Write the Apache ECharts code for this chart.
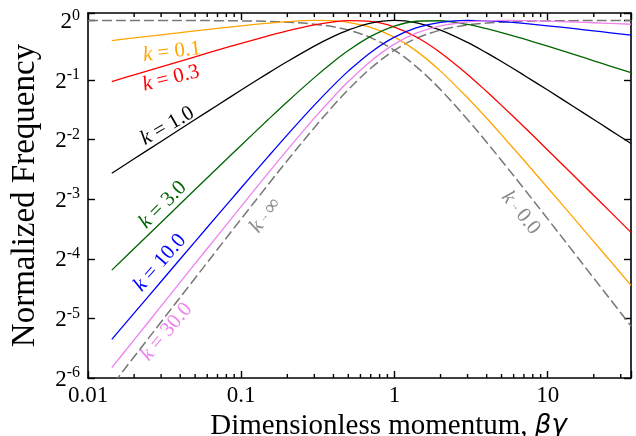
<!DOCTYPE html>
<html>
<head>
<meta charset="utf-8">
<script src="https://cdn.jsdelivr.net/npm/echarts@6/dist/echarts.min.js"></script>
<style>
  html, body { margin: 0; padding: 0; background: #ffffff; }
  #chart { width: 636px; height: 436px; }
</style>
</head>
<body>
<div id="chart"></div>
<script>
// Dimensionless momentum (beta*gamma) sample points for the finite-k curves
const momentum = [0.0143, 0.02, 0.03, 0.05, 0.07, 0.1, 0.15, 0.2, 0.3, 0.4, 0.5, 0.7,
                  1, 1.4, 2, 3, 4, 5, 7, 10, 15, 20, 25, 35];
// Sample points for the two limiting (dashed) curves
const momentumLimit = [0.01, 0.0143, 0.02, 0.03, 0.05, 0.07, 0.1, 0.15, 0.2, 0.3, 0.4, 0.5, 0.7,
                       1, 1.4, 2, 3, 4, 5, 7, 10, 15, 20, 25, 35];

// Normalized frequency for each k
const freqK01 = [0.7914, 0.8159, 0.8463, 0.8858, 0.9122, 0.9399, 0.9692, 0.9865, 0.9997, 0.9948, 0.9780, 0.9235,
                 0.8234, 0.6979, 0.5547, 0.4069, 0.3204, 0.2644, 0.1966, 0.1429, 0.0991, 0.0764, 0.0624, 0.0459];
const freqK03 = [0.4915, 0.5311, 0.5830, 0.6554, 0.7074, 0.7663, 0.8363, 0.8861, 0.9505, 0.9845, 0.9985, 0.9884,
                 0.9264, 0.8230, 0.6875, 0.5339, 0.4375, 0.3725, 0.2903, 0.2218, 0.1628, 0.1306, 0.1101, 0.0850];
const freqK1  = [0.1691, 0.2000, 0.2448, 0.3158, 0.3732, 0.4450, 0.5417, 0.6201, 0.7419, 0.8304, 0.8944, 0.9692,
                 1.0000, 0.9726, 0.8944, 0.7746, 0.6860, 0.6202, 0.5291, 0.4450, 0.3644, 0.3158, 0.2826, 0.2389];
const freqK3  = [0.0548, 0.0704, 0.0954, 0.1399, 0.1798, 0.2344, 0.3157, 0.3885, 0.5143, 0.6186, 0.7045, 0.8303,
                 0.9367, 0.9910, 0.9963, 0.9549, 0.9087, 0.8686, 0.8062, 0.7412, 0.6716, 0.6256, 0.5919, 0.5443];
const freqK10 = [0.02449, 0.03323, 0.04802, 0.07635, 0.1035, 0.1429, 0.2053, 0.2644, 0.3733, 0.4700, 0.5546, 0.6896,
                 0.8234, 0.9190, 0.9779, 0.9997, 0.9959, 0.9864, 0.9659, 0.9399, 0.9083, 0.8858, 0.8684, 0.8425];
const freqK30 = [0.01761, 0.02435, 0.03605, 0.05907, 0.08168, 0.1151, 0.1693, 0.2218, 0.3208, 0.4107, 0.4911, 0.6228,
                 0.7593, 0.8644, 0.9392, 0.9833, 0.9962, 0.9997, 0.9983, 0.9920, 0.9819, 0.9737, 0.9672, 0.9570];
// Limits k -> infinity and k -> 0
const freqKInf = [0.0100, 0.0143, 0.0200, 0.0300, 0.0499, 0.0698, 0.0995, 0.1483, 0.1961, 0.2873, 0.3714, 0.4472, 0.5735,
                  0.7071, 0.8137, 0.8944, 0.9487, 0.9701, 0.9806, 0.9899, 0.9950, 0.9978, 0.9988, 0.9992, 0.9996];
const freqK0   = [1.0000, 0.9999, 0.9998, 0.9996, 0.9988, 0.9976, 0.9950, 0.9890, 0.9806, 0.9578, 0.9285, 0.8944, 0.8192,
                  0.7071, 0.5812, 0.4472, 0.3162, 0.2425, 0.1961, 0.1414, 0.0995, 0.0665, 0.0499, 0.0400, 0.0286];

// Axis ticks
const xMajorTicks = [0.01, 0.1, 1, 10];
const xTickLabels = ['0.01', '0.1', '1', '10'];
const xMinorTicks = [0.02, 0.03, 0.04, 0.05, 0.06, 0.07, 0.08, 0.09,
                     0.2, 0.3, 0.4, 0.5, 0.6, 0.7, 0.8, 0.9,
                     2, 3, 4, 5, 6, 7, 8, 9, 20, 30];
const yExponents = [-6, -5, -4, -3, -2, -1, 0];
const yTicks = yExponents.map(e => Math.pow(2, e));

// Curve labels: text, anchor in data space, rotation (deg), colour
const curveLabels = [
  { k: '0.1',  at: [0.0353, 0.693], rot: 7,   color: '#FFA500' },
  { k: '0.3',  at: [0.0348, 0.510], rot: 14,  color: '#FF0000' },
  { k: '1.0',  at: [0.0330, 0.293], rot: 30,  color: '#000000' },
  { k: '3.0',  at: [0.0308, 0.117], rot: 45,  color: '#006400' },
  { k: '10.0', at: [0.0295, 0.0597], rot: 49, color: '#0000FF' },
  { k: '30.0', at: [0.0325, 0.0267], rot: 50, color: '#EE82EE' }
];
const limitLabels = [
  { k: '∞',   at: [0.144, 0.1036], rot: 53 },
  { k: '0.0', at: [6.68, 0.1066],  rot: -51 }
];

const FONT = 'Liberation Serif';
const xMin = 0.01, xMax = 35;
const yMin = Math.pow(2, -6), yMax = Math.pow(2, 0.125);

const chart = echarts.init(document.getElementById('chart'));

const zip = (xs, ys) => ys.map((y, i) => [xs[i], y]);

const solid = [
  { data: freqK01, color: '#FFA500' },
  { data: freqK03, color: '#FF0000' },
  { data: freqK1,  color: '#000000' },
  { data: freqK3,  color: '#006400' },
  { data: freqK10, color: '#0000FF' },
  { data: freqK30, color: '#EE82EE' }
];

const series = [];
[freqKInf, freqK0].forEach(d => {
  series.push({
    type: 'line', data: zip(momentumLimit, d), smooth: 0.35, showSymbol: false, silent: true,
    clip: true, z: 1,
    lineStyle: { color: '#777777', width: 1.5, type: [10, 4] }
  });
});
solid.forEach(s => {
  series.push({
    type: 'line', data: zip(momentum, s.data), smooth: 0.35, showSymbol: false, silent: true,
    clip: true, z: 2,
    lineStyle: { color: s.color, width: 1.3 }
  });
});

// Short inward minor ticks on the bottom and top edges, placed through the x scale
function minorTickSeries(edgeValue, dir) {
  return {
    type: 'custom', coordinateSystem: 'cartesian2d', clip: false, silent: true, z: 5,
    data: xMinorTicks.map(v => [v, edgeValue]),
    renderItem: (params, api) => {
      const p = api.coord([api.value(0), api.value(1)]);
      return {
        type: 'line',
        shape: { x1: p[0], y1: p[1], x2: p[0], y2: p[1] + dir * 4 },
        style: { stroke: '#000', lineWidth: 1.4 }
      };
    }
  };
}
series.push(minorTickSeries(yMin, -1));
series.push(minorTickSeries(yMax, 1));

const majorTick = { show: true, inside: true, length: 7, lineStyle: { color: '#000', width: 1.4 } };

function xAxisDef(pos, withLabels) {
  return {
    type: 'log', logBase: 10, min: xMin, max: xMax, position: pos,
    axisLine: { show: true, onZero: false, lineStyle: { color: '#000', width: 1.6 } },
    axisTick: majorTick,
    axisLabel: withLabels ? {
      show: true, customValues: xMajorTicks, margin: 6,
      fontFamily: FONT, fontSize: 23, color: '#000',
      formatter: v => xTickLabels[xMajorTicks.findIndex(t => Math.abs(Math.log10(t) - Math.log10(v)) < 0.01)] || ''
    } : { show: false },
    splitLine: { show: false },
    name: withLabels ? '{a|Dimensionless momentum, }{b|βγ}' : '',
    nameLocation: 'middle', nameGap: 33,
    nameTextStyle: withLabels ? {
      padding: [0, 0, 0, 58],
      rich: {
        a: { fontFamily: FONT, fontSize: 29, color: '#000' },
        b: { fontFamily: 'DejaVu Sans', fontStyle: 'italic', fontSize: 26, color: '#000' }
      }
    } : {}
  };
}

function yAxisDef(pos, withLabels) {
  return {
    type: 'log', logBase: 2, min: yMin, max: yMax, position: pos,
    axisLine: { show: true, onZero: false, lineStyle: { color: '#000', width: 1.6 } },
    axisTick: majorTick,
    axisLabel: withLabels ? {
      show: true, customValues: yTicks, margin: 8,
      formatter: v => {
        const e = Math.round(Math.log2(v));
        return '{b|2}{s|' + (e < 0 ? '-' + (-e) : e) + '}';
      },
      rich: {
        b: { fontFamily: FONT, fontSize: 23, color: '#000', lineHeight: 26, verticalAlign: 'bottom' },
        s: { fontFamily: FONT, fontSize: 16, color: '#000', lineHeight: 14, verticalAlign: 'top' }
      }
    } : { show: false },
    splitLine: { show: false },
    name: withLabels ? 'Normalized Frequency' : '',
    nameLocation: 'middle', nameRotate: 90, nameGap: 46,
    nameTextStyle: { fontFamily: FONT, fontSize: 33, color: '#000' }
  };
}

chart.setOption({
  animation: false,
  backgroundColor: '#ffffff',
  grid: { left: 88, right: 5, top: 13, bottom: 58, containLabel: false, outerBoundsMode: 'none' },
  xAxis: [ xAxisDef('bottom', true), xAxisDef('top', false) ],
  yAxis: [ yAxisDef('left', true), yAxisDef('right', false) ],
  series: series
});

// Curve annotations placed at data-space anchors
const graphics = [];
curveLabels.forEach(l => {
  const p = chart.convertToPixel({ xAxisIndex: 0, yAxisIndex: 0 }, l.at);
  graphics.push({
    type: 'text', x: p[0], y: p[1], rotation: l.rot * Math.PI / 180, silent: true,
    style: {
      text: '{i|k}{n| = ' + l.k + '}', align: 'center', verticalAlign: 'middle',
      rich: {
        i: { fontFamily: FONT, fontStyle: 'italic', fontSize: 21, fill: l.color, color: l.color },
        n: { fontFamily: FONT, fontSize: 21, fill: l.color, color: l.color }
      }
    }
  });
});
limitLabels.forEach(l => {
  const p = chart.convertToPixel({ xAxisIndex: 0, yAxisIndex: 0 }, l.at);
  graphics.push({
    type: 'text', x: p[0], y: p[1], rotation: l.rot * Math.PI / 180, silent: true,
    style: {
      text: '{i|k}{a| → }{n|' + l.k + '}', align: 'center', verticalAlign: 'middle',
      rich: {
        i: { fontFamily: FONT, fontStyle: 'italic', fontSize: 21, fill: '#8a8a8a', color: '#8a8a8a' },
        a: { fontFamily: FONT, fontSize: 9, fill: '#8a8a8a', color: '#8a8a8a' },
        n: { fontFamily: FONT, fontSize: 21, fill: '#8a8a8a', color: '#8a8a8a' }
      }
    }
  });
});
chart.setOption({ graphic: graphics });
</script>
</body>
</html>
